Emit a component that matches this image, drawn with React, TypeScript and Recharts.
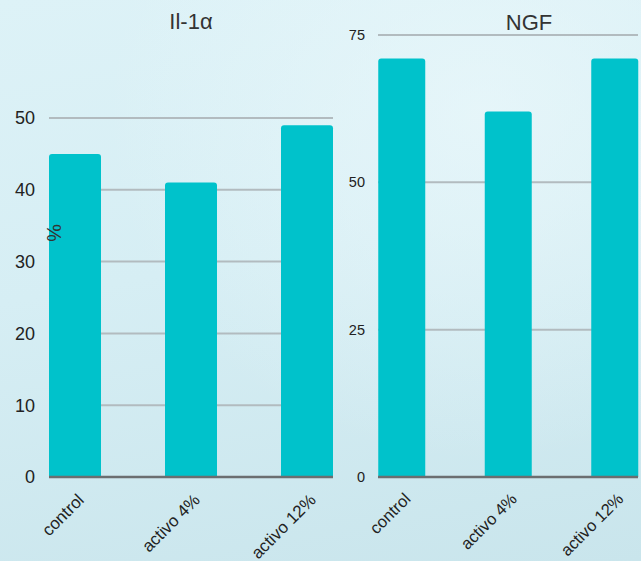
import React from "react";
import { BarChart, Bar, XAxis, YAxis, CartesianGrid } from "recharts";

const categories = ["control", "activo 4%", "activo 12%"];
const il1aValues = [45, 41, 49];
const ngfValues = [71, 62, 71];
const il1aTicks = [0, 10, 20, 30, 40, 50];
const ngfTicks = [0, 25, 50, 75];

const il1aData = categories.map((name, i) => ({ name, value: il1aValues[i] }));
const ngfData = categories.map((name, i) => ({ name, value: ngfValues[i] }));

const FONT = "'Liberation Sans', Arial, sans-serif";
const BAR = "#00c2cb";

const SlantTick = (props: any) => {
  const { x, y, payload, fontSize, dx, dy } = props;
  const ax = x + dx;
  const ay = y + dy;
  return (
    <text
      x={ax}
      y={ay}
      transform={`rotate(-45 ${ax} ${ay})`}
      textAnchor="end"
      fontSize={fontSize}
      fontFamily={FONT}
      fill="#222"
    >
      {payload.value}
    </text>
  );
};

export default function App() {
  return (
    <div
      style={{
        position: "fixed",
        left: 0,
        top: 0,
        width: 641,
        height: 561,
        overflow: "hidden",
        background:
          "radial-gradient(ellipse at 75% 20%, rgba(235,248,251,0.7), rgba(235,248,251,0) 55%), linear-gradient(170deg, #ddf2f7 0%, #d6eef4 45%, #c9e5ec 100%)",
        fontFamily: FONT,
      }}
    >
      <div style={{ position: "absolute", left: 0, top: 0 }}>
        <BarChart width={340} height={561} data={il1aData} margin={{ top: 118, right: 7, bottom: 24, left: 0 }}>
          <CartesianGrid vertical={false} stroke="#b2bbbf" strokeWidth={2} />
          <XAxis
            dataKey="name"
            scale="point"
            padding={{ left: 26, right: 26 }}
            height={60}
            tickLine={false}
            axisLine={{ stroke: "#6b6e70", strokeWidth: 2.5 }}
            interval={0}
            tick={<SlantTick fontSize={17} dx={10} dy={16} />}
          />
          <YAxis
            width={49}
            domain={[0, 50]}
            ticks={il1aTicks}
            axisLine={false}
            tickLine={false}
            tickMargin={8}
            tick={{ fontSize: 18, fill: "#222", fontFamily: FONT }}
          />
          <Bar dataKey="value" fill={BAR} barSize={52} radius={[3, 3, 0, 0]} isAnimationActive={false} />
        </BarChart>
      </div>
      <div style={{ position: "absolute", left: 330, top: 0 }}>
        <BarChart width={311} height={561} data={ngfData} margin={{ top: 35, right: 3, bottom: 24, left: 0 }}>
          <CartesianGrid vertical={false} stroke="#b2bbbf" strokeWidth={2} />
          <XAxis
            dataKey="name"
            scale="point"
            padding={{ left: 23.5, right: 23.5 }}
            height={60}
            tickLine={false}
            axisLine={{ stroke: "#6b6e70", strokeWidth: 2.5 }}
            interval={0}
            tick={<SlantTick fontSize={16.5} dx={10} dy={15} />}
          />
          <YAxis
            width={48}
            domain={[0, 75]}
            ticks={ngfTicks}
            axisLine={false}
            tickLine={false}
            tickMargin={7}
            tick={{ fontSize: 14.5, fill: "#222", fontFamily: FONT }}
          />
          <Bar dataKey="value" fill={BAR} barSize={47} radius={[3, 3, 0, 0]} isAnimationActive={false} />
        </BarChart>
      </div>
      <svg
        width={641}
        height={561}
        style={{ position: "absolute", left: 0, top: 0, pointerEvents: "none" }}
      >
        <text x={191} y={29} textAnchor="middle" fontSize={22} fill="#333" fontFamily={FONT}>
          Il-1α
        </text>
        <text x={529} y={30} textAnchor="middle" fontSize={22} fill="#333" fontFamily={FONT}>
          NGF
        </text>
        <text
          x={54}
          y={233}
          transform="rotate(90 54 233)"
          textAnchor="middle"
          dominantBaseline="central"
          fontSize={20}
          fill="#333"
          fontFamily={FONT}
        >
          %
        </text>
      </svg>
    </div>
  );
}
